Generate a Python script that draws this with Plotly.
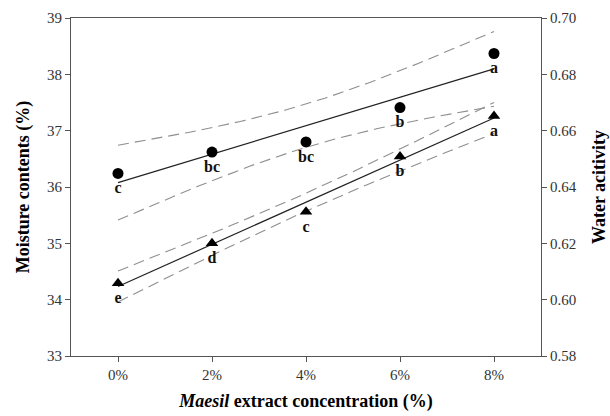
import numpy as np
import plotly.graph_objects as go

# Data
conc = [0, 2, 4, 6, 8]
conc_labels = ["0%", "2%", "4%", "6%", "8%"]
moisture = [36.24, 36.62, 36.80, 37.41, 38.37]
moisture_letters = ["c", "bc", "bc", "b", "a"]
water_activity = [0.6058, 0.6200, 0.6312, 0.6508, 0.6652]
aw_letters = ["e", "d", "c", "b", "a"]

T_975_DF3 = 3.182446  # t quantile for 95% CI, n-2 = 3 dof


def fit_with_band(x, y, xs):
    x = np.asarray(x, float)
    y = np.asarray(y, float)
    b, a = np.polyfit(x, y, 1)
    pred = a + b * x
    n = len(x)
    s = np.sqrt(np.sum((y - pred) ** 2) / (n - 2))
    sxx = np.sum((x - x.mean()) ** 2)
    fit = a + b * xs
    se = s * np.sqrt(1.0 / n + (xs - x.mean()) ** 2 / sxx)
    return fit, fit - T_975_DF3 * se, fit + T_975_DF3 * se


xs = np.linspace(min(conc), max(conc), 81)
m_fit, m_lo, m_hi = fit_with_band(conc, moisture, xs)
w_fit, w_lo, w_hi = fit_with_band(conc, water_activity, xs)

FONT = "Liberation Serif"
dash_style = dict(color="#8f8f8f", width=1.1, dash="11px,6px")
line_style = dict(color="#222222", width=1.2)
label_font = dict(family=FONT, size=16, color="#111111")

fig = go.Figure()

# Moisture (left axis)
for band in (m_lo, m_hi):
    fig.add_trace(go.Scatter(x=xs, y=band, mode="lines", line=dash_style,
                             yaxis="y", showlegend=False, hoverinfo="skip"))
fig.add_trace(go.Scatter(x=xs, y=m_fit, mode="lines", line=line_style,
                         yaxis="y", showlegend=False))
fig.add_trace(go.Scatter(x=conc, y=moisture, mode="markers+text",
                         marker=dict(symbol="circle", size=11, color="black"),
                         text=["<b>%s</b>" % t for t in moisture_letters],
                         textposition="bottom center", textfont=label_font,
                         yaxis="y", showlegend=False))

# Water activity (right axis)
for band in (w_lo, w_hi):
    fig.add_trace(go.Scatter(x=xs, y=band, mode="lines", line=dash_style,
                             yaxis="y2", showlegend=False, hoverinfo="skip"))
fig.add_trace(go.Scatter(x=xs, y=w_fit, mode="lines", line=line_style,
                         yaxis="y2", showlegend=False))
fig.add_trace(go.Scatter(x=conc, y=water_activity, mode="markers+text",
                         marker=dict(symbol="triangle-up", size=11, color="black"),
                         text=["<b>%s</b>" % t for t in aw_letters],
                         textposition="bottom center", textfont=label_font,
                         yaxis="y2", showlegend=False))

axis_common = dict(showline=True, linecolor="#555555", linewidth=1,
                   ticks="outside", ticklen=5, tickcolor="#555555",
                   showgrid=False, zeroline=False, automargin=False,
                   tickfont=dict(family=FONT, size=15, color="#333333"))

fig.update_layout(
    width=610, height=416,
    margin=dict(l=71, r=69, t=18, b=60),
    paper_bgcolor="white", plot_bgcolor="white",
    xaxis=dict(range=[-1, 9], tickvals=conc, ticktext=conc_labels,
               mirror=True,
               title=dict(text="<b><i>Maesil</i> extract concentration (%)</b>",
                          font=dict(family=FONT, size=18, color="black"),
                          standoff=12),
               **axis_common),
    yaxis=dict(range=[33, 39], dtick=1,
               title=dict(text="<b>Moisture contents (%)</b>",
                          font=dict(family=FONT, size=18, color="black"),
                          standoff=12),
               **axis_common),
    yaxis2=dict(range=[0.58, 0.70], dtick=0.02, tickformat=".2f",
                overlaying="y", side="right",
                title=dict(text="<b>Water acitivity</b>",
                           font=dict(family=FONT, size=18, color="black"),
                           standoff=16),
                **axis_common),
)

fig.write_html("out.html")
